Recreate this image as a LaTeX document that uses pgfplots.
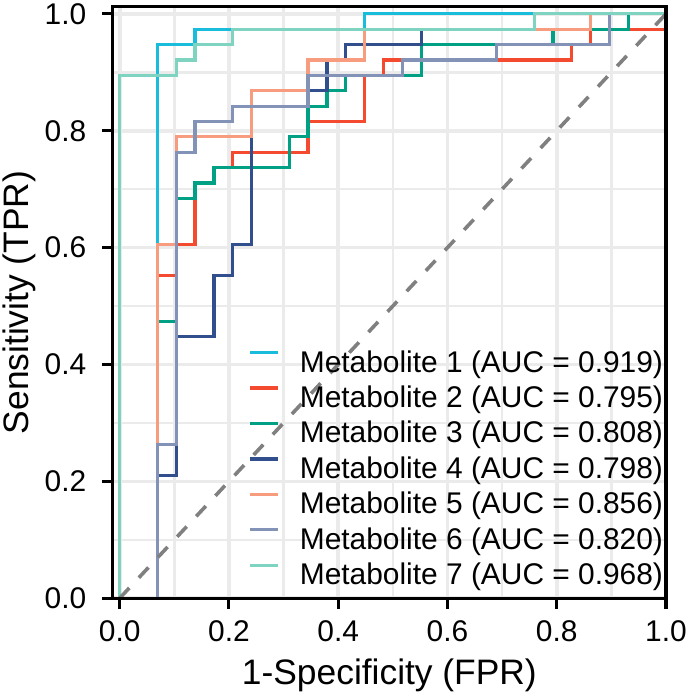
\documentclass[border=0pt]{standalone}
\usepackage{fontspec}
\setmainfont{Liberation Sans}
\usepackage{pgfplots}
\pgfplotsset{compat=1.18}
\definecolor{cA}{HTML}{1ABCDB}
\definecolor{cB}{HTML}{F44A30}
\definecolor{cC}{HTML}{00A085}
\definecolor{cD}{HTML}{304F8C}
\definecolor{cE}{HTML}{F89C80}
\definecolor{cF}{HTML}{8393B8}
\definecolor{cG}{HTML}{7ED3C1}
\definecolor{gridc}{HTML}{EBEBEB}
\begin{document}
\begin{tikzpicture}
\begin{axis}[
  scale only axis, width=553bp, height=591bp,
  xmin=-0.0128, xmax=1, ymin=0, ymax=1.012,
  clip mode=individual,
  xtick={0,0.2,0.4,0.6,0.8,1}, ytick={0,0.2,0.4,0.6,0.8,1},
  minor xtick={0.1,0.3,0.5,0.7,0.9}, minor ytick={0.1,0.3,0.5,0.7,0.9},
  grid=both,
  major grid style={line width=3.6bp, color=gridc},
  minor grid style={line width=2.4bp, color=gridc},
  tick align=outside, tick pos=left,
  major tick length=11bp, minor tick length=0pt,
  major tick style={black, line width=3bp},
  axis line style={line width=3.2bp},
  ticklabel style={font=\fontsize{30}{30}\selectfont},
  xticklabel style={yshift=-8bp, /pgf/number format/fixed, /pgf/number format/fixed zerofill, /pgf/number format/precision=1, /pgf/number format/assume math mode=true},
  yticklabel style={xshift=-12bp, /pgf/number format/fixed, /pgf/number format/fixed zerofill, /pgf/number format/precision=1, /pgf/number format/assume math mode=true},
  label style={font=\fontsize{35.5}{35.5}\selectfont},
  xlabel={1-Specificity (FPR)},
  ylabel={Sensitivity (TPR)},
  xlabel style={at={(axis description cs:0.5,-0.1303)}, anchor=center},
  ylabel style={at={(axis description cs:-0.168,0.5)}, anchor=center},
  legend style={draw=none, fill=none, at={(0.9946,0.0076)}, anchor=south east, inner sep=0pt, outer sep=0pt, font=\fontsize{30}{36}\selectfont, row sep=0pt, column sep=20bp, nodes={inner sep=0pt, text height=26.4bp, text depth=9bp}},
  legend cell align=left,
  legend image code/.code={\draw[#1] (0bp,10.8bp) -- (28bp,10.8bp);},
  every axis plot/.append style={line width=3.2bp},
]
\addplot[cA] coordinates {(0,0) (0.0690,0) (0.0690,0.9474) (0.1379,0.9474) (0.1379,0.9737) (0.4483,0.9737) (0.4483,1) (1,1)};
\addlegendentry{Metabolite 1 (AUC = 0.919)}
\addplot[cB] coordinates {(0,0) (0.0690,0) (0.0690,0.5526) (0.1034,0.5526) (0.1034,0.6053) (0.1379,0.6053) (0.1379,0.7105) (0.1724,0.7105) (0.1724,0.7368) (0.2069,0.7368) (0.2069,0.7632) (0.3448,0.7632) (0.3448,0.8158) (0.4483,0.8158) (0.4483,0.8947) (0.4828,0.8947) (0.4828,0.9211) (0.8276,0.9211) (0.8276,0.9474) (0.8621,0.9474) (0.8621,0.9737) (1,0.9737) (1,1)};
\addlegendentry{Metabolite 2 (AUC = 0.795)}
\addplot[cC] coordinates {(0,0) (0.0690,0) (0.0690,0.4737) (0.1034,0.4737) (0.1034,0.6842) (0.1379,0.6842) (0.1379,0.7105) (0.1724,0.7105) (0.1724,0.7368) (0.3103,0.7368) (0.3103,0.7895) (0.3448,0.7895) (0.3448,0.8421) (0.3793,0.8421) (0.3793,0.8684) (0.4138,0.8684) (0.4138,0.8947) (0.5517,0.8947) (0.5517,0.9474) (0.7931,0.9474) (0.7931,0.9737) (0.9310,0.9737) (0.9310,1) (1,1)};
\addlegendentry{Metabolite 3 (AUC = 0.808)}
\addplot[cD] coordinates {(0,0) (0.0690,0) (0.0690,0.2105) (0.1034,0.2105) (0.1034,0.4474) (0.1724,0.4474) (0.1724,0.5526) (0.2069,0.5526) (0.2069,0.6053) (0.2414,0.6053) (0.2414,0.8421) (0.3448,0.8421) (0.3448,0.8684) (0.3793,0.8684) (0.3793,0.9211) (0.4138,0.9211) (0.4138,0.9474) (0.5517,0.9474) (0.5517,0.9737) (0.8621,0.9737) (0.8621,1) (1,1)};
\addlegendentry{Metabolite 4 (AUC = 0.798)}
\addplot[cE] coordinates {(0,0) (0.0690,0) (0.0690,0.6053) (0.1034,0.6053) (0.1034,0.7895) (0.2414,0.7895) (0.2414,0.8684) (0.3448,0.8684) (0.3448,0.9211) (0.4483,0.9211) (0.4483,0.9737) (0.8621,0.9737) (0.8621,1) (1,1)};
\addlegendentry{Metabolite 5 (AUC = 0.856)}
\addplot[cF] coordinates {(0,0) (0.0690,0) (0.0690,0.2632) (0.1034,0.2632) (0.1034,0.7632) (0.1379,0.7632) (0.1379,0.8158) (0.2069,0.8158) (0.2069,0.8421) (0.3448,0.8421) (0.3448,0.8947) (0.5172,0.8947) (0.5172,0.9211) (0.6897,0.9211) (0.6897,0.9474) (0.8966,0.9474) (0.8966,1) (1,1)};
\addlegendentry{Metabolite 6 (AUC = 0.820)}
\addplot[cG] coordinates {(0,0) (0,0.8947) (0.1034,0.8947) (0.1034,0.9211) (0.1379,0.9211) (0.1379,0.9474) (0.2069,0.9474) (0.2069,0.9737) (0.7586,0.9737) (0.7586,1) (1,1)};
\addlegendentry{Metabolite 7 (AUC = 0.968)}
\addplot[forget plot, color=gray, line width=3.6bp, dash pattern=on 14bp off 14bp] coordinates {(0,0) (1,1)};
\draw[line width=3.2bp] (rel axis cs:0,0) rectangle (rel axis cs:1,1);
\end{axis}
\end{tikzpicture}
\end{document}
